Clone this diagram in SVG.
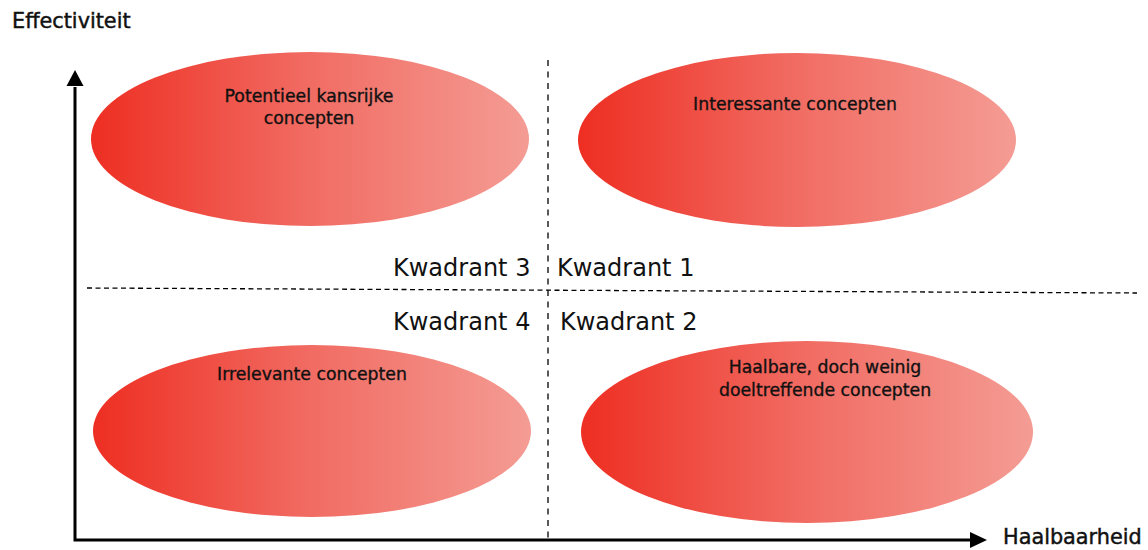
<svg xmlns="http://www.w3.org/2000/svg" width="1148" height="550" viewBox="0 0 1148 550">
  <defs>
    <linearGradient id="redFade" x1="0" y1="0" x2="1" y2="0">
      <stop offset="0" stop-color="#EE2E22"/>
      <stop offset="0.5" stop-color="#F16C63"/>
      <stop offset="1" stop-color="#F49C94"/>
    </linearGradient>
  </defs>
  <style>
    .blob { fill: url(#redFade); }
    .lbl { font-family: "DejaVu Sans", sans-serif; font-size: 17.3px; fill: #111; stroke: #111; stroke-width: 0.35; text-anchor: middle; }
    .quad { font-family: "DejaVu Sans", sans-serif; font-size: 24px; fill: #111; }
    .axislbl { font-family: "DejaVu Sans", sans-serif; font-size: 20.8px; fill: #111; stroke: #111; stroke-width: 0.45; }
    .axis { stroke: #000; stroke-width: 3; fill: none; }
    .divider { stroke: #000; stroke-width: 1.3; fill: none; }
  </style>

  <g id="node-q3">
    <ellipse class="blob" cx="310" cy="139" rx="219" ry="87"/>
    <text class="lbl" x="309" y="102">Potentieel kansrijke</text>
    <text class="lbl" x="309" y="124">concepten</text>
  </g>
  <g id="node-q1">
    <ellipse class="blob" cx="797" cy="140" rx="219" ry="87"/>
    <text class="lbl" x="795" y="110">Interessante concepten</text>
  </g>
  <g id="node-q4">
    <ellipse class="blob" cx="312" cy="431" rx="219" ry="86"/>
    <text class="lbl" x="312" y="380">Irrelevante concepten</text>
  </g>
  <g id="node-q2">
    <ellipse class="blob" cx="807" cy="432" rx="226" ry="91"/>
    <text class="lbl" x="825" y="373">Haalbare, doch weinig</text>
    <text class="lbl" x="825" y="396">doeltreffende concepten</text>
  </g>

  <g id="connectors">
    <line class="divider" x1="548" y1="60" x2="548" y2="540" stroke-dasharray="6 5.5"/>
    <line class="divider" x1="87" y1="288" x2="1137" y2="293" stroke-dasharray="5 3.5"/>
    <polyline class="axis" points="75,87 75,540 971,540"/>
    <polygon points="75,70 66.5,86 83.5,86" fill="#000"/>
    <polygon points="987,540 970,532 970,548" fill="#000"/>
  </g>

  <g id="labels">
    <text class="quad" x="393" y="276">Kwadrant 3</text>
    <text class="quad" x="557" y="276">Kwadrant 1</text>
    <text class="quad" x="393" y="330">Kwadrant 4</text>
    <text class="quad" x="560" y="330">Kwadrant 2</text>
    <text class="axislbl" x="12" y="28">Effectiviteit</text>
    <text class="axislbl" x="1003" y="544">Haalbaarheid</text>
  </g>
</svg>
